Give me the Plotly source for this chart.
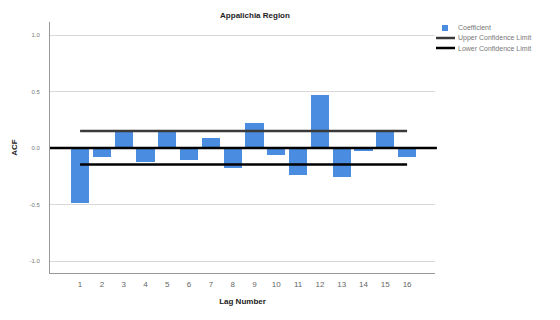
import plotly.graph_objects as go

lags = list(range(1, 17))
acf = [-0.49, -0.08, 0.16, -0.12, 0.16, -0.11, 0.09, -0.18,
       0.22, -0.06, -0.24, 0.47, -0.26, -0.03, 0.14, -0.08]
upper_limit = [0.15] * 16
lower_limit = [-0.145] * 16
y_ticks = [-1.0, -0.5, 0.0, 0.5, 1.0]
legend_labels = ["Coefficient", "Upper Confidence Limit", "Lower Confidence Limit"]

font_family = "Liberation Sans, Arial, sans-serif"
bar_color = "#4a8de0"
upper_color = "#3a3a3a"
lower_color = "#000000"

fig = go.Figure()
fig.add_trace(go.Bar(
    x=lags, y=acf, name=legend_labels[0], width=0.83,
    marker=dict(color=bar_color, line=dict(width=0)),
))
fig.add_trace(go.Scatter(
    x=lags, y=upper_limit, mode="lines", name=legend_labels[1],
    line=dict(color=upper_color, width=2.5),
))
fig.add_trace(go.Scatter(
    x=lags, y=lower_limit, mode="lines", name=legend_labels[2],
    line=dict(color=lower_color, width=2.5),
))

# reference line at zero
fig.add_shape(type="line", xref="paper", yref="y", x0=0, x1=1.005, y0=0, y1=0,
              line=dict(color="#000000", width=2.5), layer="above")

# compact legend drawn in paper coordinates
plot_l, plot_w, plot_b, plot_h = 50, 385, 273, 251
def px(x):
    return (x - plot_l) / plot_w
def py(y):
    return (plot_b - y) / plot_h

legend_rows = [28, 38, 48]
fig.add_shape(type="rect", xref="paper", yref="paper",
              x0=px(442), x1=px(448), y0=py(25), y1=py(31),
              fillcolor=bar_color, line=dict(width=0))
fig.add_shape(type="line", xref="paper", yref="paper",
              x0=px(436), x1=px(455), y0=py(legend_rows[1]), y1=py(legend_rows[1]),
              line=dict(color=upper_color, width=2.5))
fig.add_shape(type="line", xref="paper", yref="paper",
              x0=px(436), x1=px(455), y0=py(legend_rows[2]), y1=py(legend_rows[2]),
              line=dict(color=lower_color, width=2.5))
for label, row in zip(legend_labels, legend_rows):
    fig.add_annotation(text=label, xref="paper", yref="paper",
                       x=px(456), y=py(row), xanchor="left", yanchor="middle",
                       showarrow=False, font=dict(size=7, color="#777777"))

fig.update_layout(
    width=560, height=320,
    margin=dict(l=50, r=125, t=22, b=47),
    paper_bgcolor="white", plot_bgcolor="white",
    font=dict(family=font_family, size=7, color="#555555"),
    title=dict(text="<b>Appalichia Region</b>", x=(255 / 560), xanchor="center",
               y=1 - 15 / 320, yanchor="middle",
               font=dict(size=8, color="#222222")),
    showlegend=False,
    bargap=0,
)
fig.update_xaxes(
    range=[-0.38, 17.28], tickmode="array", tickvals=lags,
    ticktext=[str(v) for v in lags], showgrid=False, zeroline=False,
    showline=True, linecolor="#999999", linewidth=1, ticks="",
    tickfont=dict(size=8, color="#666666"), ticklabelstandoff=3,
    title=dict(text="<b>Lag Number</b>", font=dict(size=8, color="#222222"),
               standoff=10),
)
fig.update_yaxes(
    range=[-1.106, 1.115], tickmode="array", tickvals=y_ticks,
    ticktext=[f"{v:.1f}" for v in y_ticks], showgrid=True,
    gridcolor="#d8d8d8", gridwidth=1, zeroline=False,
    showline=True, linecolor="#999999", linewidth=1, ticks="",
    tickfont=dict(size=6, color="#777777"), ticklabelstandoff=8,
    title=dict(text="<b>ACF</b>", font=dict(size=8, color="#222222"),
               standoff=10),
)

fig.write_html("out.html")
